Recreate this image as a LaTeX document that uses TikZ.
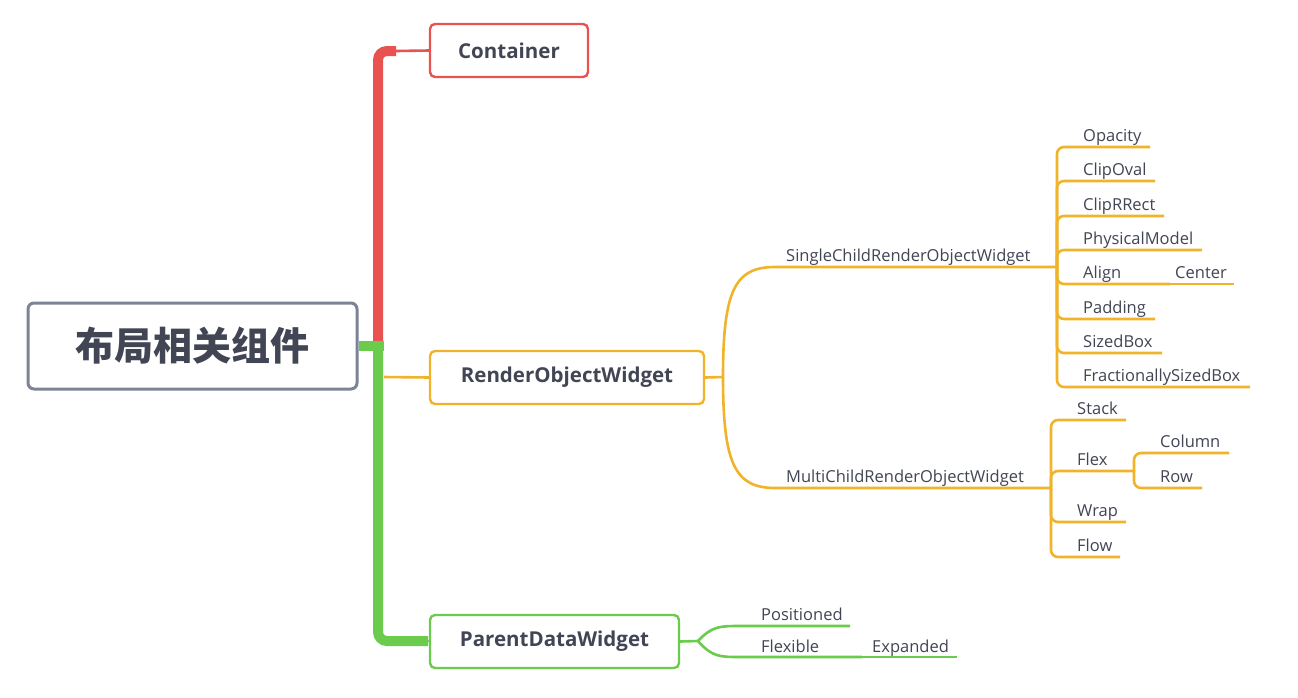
\documentclass[tikz,border=0pt]{standalone}
\usepackage{fontspec}
\setmainfont{Open Sans}
\newfontfamily\cjk{Noto Sans CJK SC}
\usetikzlibrary{calc}
\definecolor{txt}{HTML}{414554}
\definecolor{mred}{HTML}{E8534F}
\definecolor{mgreen}{HTML}{6ACB4C}
\definecolor{morange}{HTML}{F0B32A}
\definecolor{mgray}{HTML}{7D8397}
\begin{document}
\begin{tikzpicture}[x=1pt,y=-1pt,
  topbox/.style={draw, line width=2.4pt, rounded corners=5pt, fill=white,
    text=txt, font=\bfseries\fontsize{20.5}{24}\selectfont, minimum height=53pt},
  leaf/.style={anchor=base west, inner sep=0pt, text=txt, font=\fontsize{16.5}{19}\selectfont},
  oline/.style={draw=morange, line width=2.6pt, rounded corners=7pt},
  gline/.style={draw=mgreen, line width=2.6pt},
  trunk/.style={line width=10pt, rounded corners=9pt}]
\useasboundingbox[fill=white] (0,0) rectangle (1298,697);

% ---- main nodes ----
\node[draw=mgray, line width=3pt, rounded corners=6pt, fill=white, text=txt,
  minimum width=329pt, minimum height=86pt,
  font=\cjk\bfseries\fontsize{39}{42}\selectfont] (root) at (192.5,346) {布局相关组件};
\node[topbox, draw=mred, minimum width=158pt] (container) at (509,50.5) {Container};
\node[topbox, draw=morange, minimum width=274pt] (render) at (567,377.5) {RenderObjectWidget};
\node[topbox, draw=mgreen, minimum width=249pt] (parent) at (554.5,641.5) {ParentDataWidget};

% ---- trunk coordinates ----
\coordinate (tj) at (378,346);
\coordinate (tredtop) at (396,51);
\coordinate (tgreenbot) at (428,641);
\coordinate (tgreenh) at (384,346);

% red branch to Container
\draw[mred, trunk] (tj) |- (tredtop);
\draw[mred, line width=2.6pt] (tredtop) -- (container.west);
% green branch to ParentDataWidget
\draw[mgreen, trunk] (tj) |- (tgreenbot);
\draw[mgreen, line width=10pt] (root.east) -- (tgreenh);
\draw[mgreen, line width=2.6pt] (tgreenbot) -- (parent.west);
% orange branch to RenderObjectWidget
\draw[morange, line width=2.6pt] (tgreenh) ++(0,31) coordinate (to) -- (render.west);

% ---- RenderObjectWidget subtree ----
\coordinate (rj) at (723,377);
\coordinate (sj) at (1057,267);
\coordinate (mj) at (1051,488);
\draw[morange, line width=2.6pt] (render.east) -- (rj);
\draw[morange, line width=2.6pt] (rj) .. controls (723,290) and (735,267) .. (775,267) -- (sj);
\draw[morange, line width=2.6pt] (rj) .. controls (723,464) and (735,488) .. (775,488) -- (mj);
\node[leaf] (single) at (786,261) {SingleChildRenderObjectWidget};
\node[leaf] (multi) at (786,482) {MultiChildRenderObjectWidget};

% single-child leaves
\foreach \n/\t/\y/\e in {opacity/Opacity/147/1150, clipoval/ClipOval/181/1155,
    cliprrect/ClipRRect/216/1164, physical/PhysicalModel/250/1202,
    align/Align/284/1170, padding/Padding/319/1155, sizedbox/SizedBox/353/1162,
    fsb/FractionallySizedBox/387/1250} {
  \coordinate (\n-e) at (\e,\y);
  \draw[oline] (sj) |- (\n-e);
  \node[leaf] (\n) at (1083,\y-6) {\t};
}
\coordinate (center-e) at (1234,284);
\draw[oline] (align-e) -- (center-e);
\node[leaf] (center) at (1175,278) {Center};

% multi-child leaves
\foreach \n/\t/\y/\e in {stack/Stack/420/1126, flex/Flex/471/1134,
    wrap/Wrap/522/1126, flow/Flow/557/1120} {
  \coordinate (\n-e) at (\e,\y);
  \draw[oline] (mj) |- (\n-e);
  \node[leaf] (\n) at (1077,\y-6) {\t};
}
\coordinate (column-e) at (1229,453);
\coordinate (row-e) at (1202,488);
\draw[oline] (flex-e) |- (column-e);
\draw[oline] (flex-e) |- (row-e);
\node[leaf] (column) at (1160,447) {Column};
\node[leaf] (row) at (1160,482) {Row};

% ---- ParentDataWidget subtree ----
\coordinate (pj) at (698,641);
\coordinate (positioned-e) at (850,626);
\coordinate (flexible-e) at (862,657);
\coordinate (expanded-e) at (957,657);
\draw[gline] (parent.east) -- (pj);
\draw[gline] (pj) .. controls (712,626) and (720,626) .. (740,626) -- (positioned-e);
\draw[gline] (pj) .. controls (712,657) and (720,657) .. (740,657) -- (flexible-e);
\draw[gline] (flexible-e) -- (expanded-e);
\node[leaf] (positioned) at (761,620) {Positioned};
\node[leaf] (flexible) at (761,652) {Flexible};
\node[leaf] (expanded) at (872,652) {Expanded};
\end{tikzpicture}
\end{document}
